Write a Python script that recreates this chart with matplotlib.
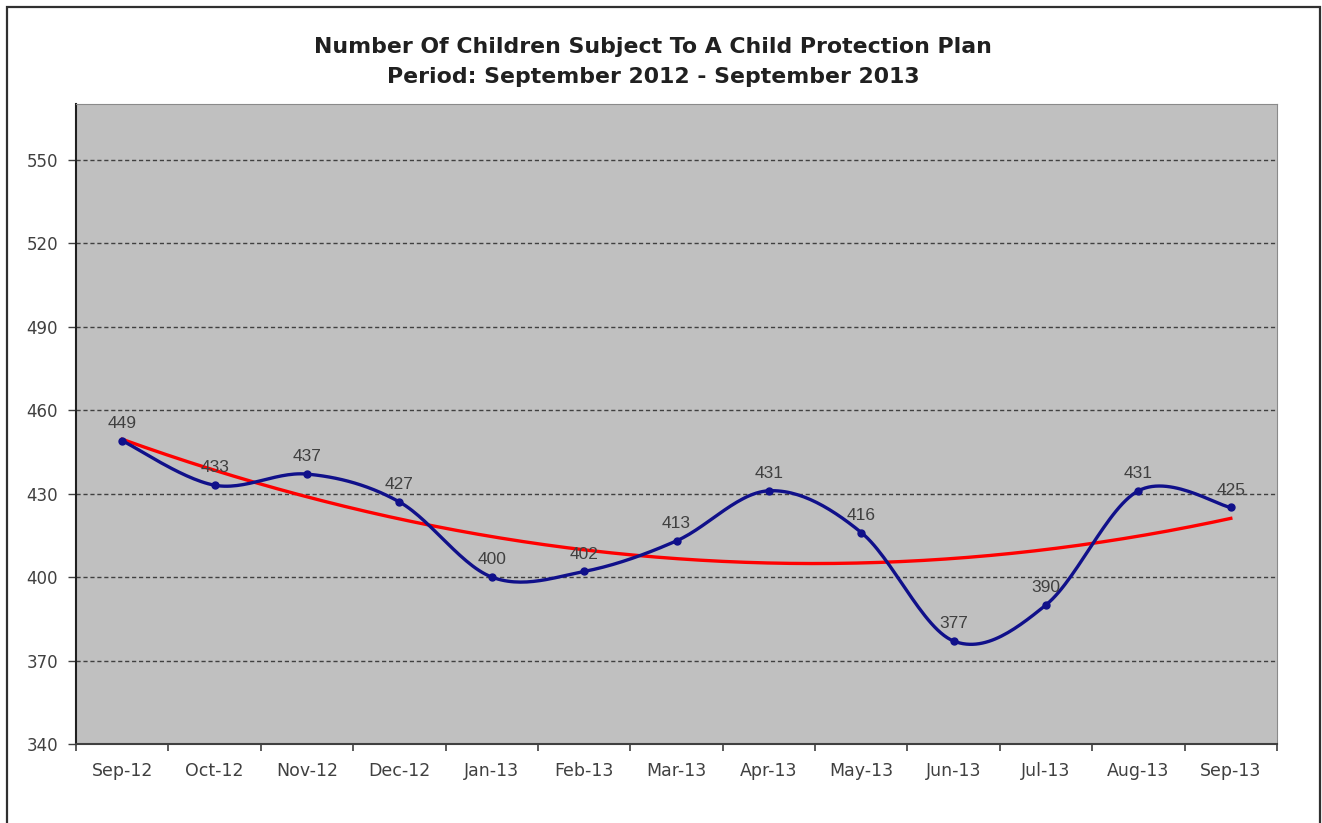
import numpy as np
import matplotlib.pyplot as plt
from matplotlib.patches import Rectangle

months = ["Sep-12", "Oct-12", "Nov-12", "Dec-12", "Jan-13", "Feb-13", "Mar-13",
          "Apr-13", "May-13", "Jun-13", "Jul-13", "Aug-13", "Sep-13"]
children = [449, 433, 437, 427, 400, 402, 413, 431, 416, 377, 390, 431, 425]
y_ticks = [340, 370, 400, 430, 460, 490, 520, 550]


def smooth_line(x, y, steps=30):
    # Catmull-Rom style smoothing, like a spreadsheet "smoothed line"
    x = np.asarray(x, float)
    y = np.asarray(y, float)
    px = np.concatenate([[x[0]], x, [x[-1]]])
    py = np.concatenate([[y[0]], y, [y[-1]]])
    xs, ys = [], []
    t = np.linspace(0, 1, steps)
    for i in range(1, len(px) - 2):
        p0, p1, p2, p3 = [np.array([px[j], py[j]]) for j in (i - 1, i, i + 1, i + 2)]
        c1 = p1 + (p2 - p0) / 6
        c2 = p2 - (p3 - p1) / 6
        b = ((1 - t) ** 3)[:, None] * p1 + (3 * (1 - t) ** 2 * t)[:, None] * c1 \
            + (3 * (1 - t) * t ** 2)[:, None] * c2 + (t ** 3)[:, None] * p2
        xs.extend(b[:, 0])
        ys.extend(b[:, 1])
    return np.array(xs), np.array(ys)


W, H = 1322, 823
fig = plt.figure(figsize=(W / 100, H / 100), dpi=100)
fig.patch.set_facecolor("white")

# outer chart frame
fig.patches.append(Rectangle((7 / W, -0.05), (1320 - 7) / W, 1.05 - 7 / H,
                             transform=fig.transFigure, fill=False,
                             edgecolor="#303030", linewidth=1.6))

ax = fig.add_axes([76 / W, 1 - 744 / H, (1277 - 76) / W, (744 - 104) / H])
ax.set_facecolor("#c0c0c0")

x = np.arange(len(months))
ax.set_xlim(-0.5, len(months) - 0.5)
ax.set_ylim(340, 570)

for v in y_ticks[1:]:
    ax.axhline(v, color="#404040", linestyle=(0, (3, 2)), linewidth=1.0, zorder=1)

# polynomial (order 2) trend line
coef = np.polyfit(x, children, 2)
xt = np.linspace(x[0], x[-1], 300)
ax.plot(xt, np.polyval(coef, xt), color="#ff0000", linewidth=2.4, zorder=3)

sx, sy = smooth_line(x, children)
ax.plot(sx, sy, color="#10108a", linewidth=2.4, zorder=4)
ax.plot(x, children, "o", color="#10108a", markersize=5, zorder=5)

for xi, v in zip(x, children):
    ax.annotate(str(v), (xi, v), xytext=(0, 7), textcoords="offset points",
                ha="center", va="bottom", fontsize=12.5, color="#404040",
                family="Liberation Sans", zorder=6)

ax.set_yticks(y_ticks)
ax.set_yticklabels([str(v) for v in y_ticks])
ax.set_xticks(x)
ax.set_xticklabels(months)
ax.set_xticks(np.arange(len(months) + 1) - 0.5, minor=True)
ax.tick_params(axis="x", which="major", length=0, pad=13)
ax.tick_params(axis="x", which="minor", length=5, width=1.2, color="#404040")
ax.tick_params(axis="y", length=6, width=1.0, color="#404040", pad=7)
for lab in ax.get_xticklabels():
    lab.set_fontsize(12.5)
for lab in ax.get_yticklabels():
    lab.set_fontsize(12)
for lab in ax.get_xticklabels() + ax.get_yticklabels():
    lab.set_color("#404040")
    lab.set_family("DejaVu Sans")

ax.spines["left"].set_color("#202020")
ax.spines["left"].set_linewidth(1.5)
ax.spines["bottom"].set_color("#404040")
ax.spines["bottom"].set_linewidth(1.5)
ax.spines["top"].set_color("#8a8a8a")
ax.spines["right"].set_color("#8a8a8a")

fig.text(653 / W, 1 - 47 / H, "Number Of Children Subject To A Child Protection Plan",
         ha="center", va="center", fontsize=15.8, fontweight="bold",
         color="#202020", family="DejaVu Sans")
fig.text(653 / W, 1 - 77 / H, "Period: September 2012 - September 2013",
         ha="center", va="center", fontsize=15.8, fontweight="bold",
         color="#202020", family="DejaVu Sans")

fig.savefig("out.png", dpi=100)
